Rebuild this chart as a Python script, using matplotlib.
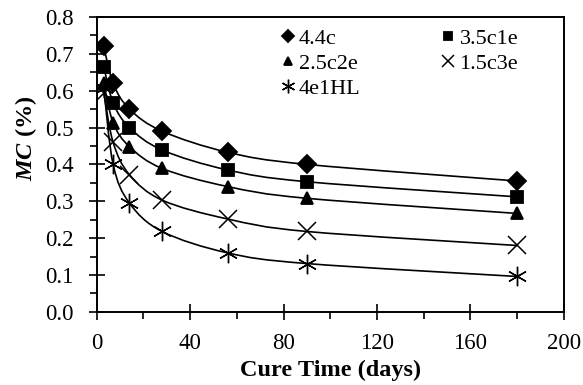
import matplotlib
matplotlib.use('Agg')
import matplotlib.pyplot as plt
from matplotlib.path import Path
from matplotlib.patches import PathPatch
from matplotlib.ticker import MultipleLocator, FormatStrFormatter

plt.rcParams['font.family'] = ['Liberation Serif', 'DejaVu Serif']
plt.rcParams['mathtext.fontset'] = 'custom'
plt.rcParams['mathtext.bfit'] = 'Liberation Serif:italic:bold'

days = [3, 7, 14, 28, 56, 90, 180]
mc_44c = [0.72, 0.62, 0.55, 0.49, 0.433, 0.40, 0.355]
mc_35c1e = [0.665, 0.567, 0.50, 0.439, 0.385, 0.353, 0.312]
mc_25c2e = [0.62, 0.513, 0.448, 0.389, 0.340, 0.308, 0.267]
mc_15c3e = [0.595, 0.46, 0.372, 0.303, 0.252, 0.218, 0.180]
mc_4e1hl = [0.607, 0.40, 0.295, 0.218, 0.160, 0.131, 0.096]

labels = ['4.4c', '3.5c1e', '2.5c2e', '1.5c3e', '4e1HL']
markers = ['D', 's', '^', 'x', (6, 2, 0)]
sizes = [9, 8, 9, 13, 14]
edge_w = [1.3, 1.3, 1.3, 1.1, 1.0]


def smooth_path(xs, ys):
    # excel style smoothed line: bezier segments with catmull-rom control points
    pts = list(zip(xs, ys))
    n = len(pts)
    verts = [pts[0]]
    codes = [Path.MOVETO]
    for i in range(n - 1):
        p0 = pts[max(i - 1, 0)]
        p1 = pts[i]
        p2 = pts[i + 1]
        p3 = pts[min(i + 2, n - 1)]
        c1 = (p1[0] + (p2[0] - p0[0]) / 6, p1[1] + (p2[1] - p0[1]) / 6)
        c2 = (p2[0] - (p3[0] - p1[0]) / 6, p2[1] - (p3[1] - p1[1]) / 6)
        verts += [c1, c2, p2]
        codes += [Path.CURVE4] * 3
    return Path(verts, codes)


fig = plt.figure(figsize=(5.83, 3.85), dpi=100)
ax = fig.add_axes([0.166, 0.190, 0.801, 0.766])

series = [mc_44c, mc_35c1e, mc_25c2e, mc_15c3e, mc_4e1hl]
handles = []
for vals, lab, m, s, w in zip(series, labels, markers, sizes, edge_w):
    ax.add_patch(PathPatch(smooth_path(days, vals), fill=False, edgecolor='black', lw=1.2))
    h, = ax.plot(days, vals, linestyle='none', marker=m, markersize=s, color='black',
                 markeredgewidth=w, label=lab)
    handles.append(h)

ax.set_xlim(0, 200)
ax.set_ylim(0, 0.8)
ax.xaxis.set_major_locator(MultipleLocator(40))
ax.xaxis.set_minor_locator(MultipleLocator(20))
ax.yaxis.set_major_locator(MultipleLocator(0.1))
ax.yaxis.set_minor_locator(MultipleLocator(0.05))
ax.yaxis.set_major_formatter(FormatStrFormatter('%.1f'))
ax.tick_params(which='major', direction='inout', length=11, width=1.2, labelsize=16.5)
ax.tick_params(axis='y', which='major', pad=11)
ax.tick_params(axis='x', which='major', pad=10)
ax.tick_params(which='minor', direction='out', length=5, width=1.2)
for sp in ax.spines.values():
    sp.set_linewidth(1.4)

ax.set_xlabel('Cure Time (days)', fontsize=17.5, fontweight='bold')
ax.set_ylabel(r'$\mathbfit{MC}$ (%)', fontsize=17.5, fontweight='bold')
ax.xaxis.set_label_coords(0.5, -0.2)
ax.yaxis.set_label_coords(-0.152, 0.59)
ax.xaxis.label.set_va('center')
ax.yaxis.label.set_va('center')

# row-wise legend order like the original
order = [0, 2, 4, 1, 3]
ax.legend([handles[i] for i in order], [labels[i] for i in order], ncol=2,
          frameon=False, loc='upper left', bbox_to_anchor=(0.388, 0.962),
          borderpad=0, borderaxespad=0, fontsize=16, handletextpad=0.05,
          handlelength=0.9, columnspacing=3.5, labelspacing=0.2, markerscale=0.7)

fig.savefig('out.png', dpi=100)
